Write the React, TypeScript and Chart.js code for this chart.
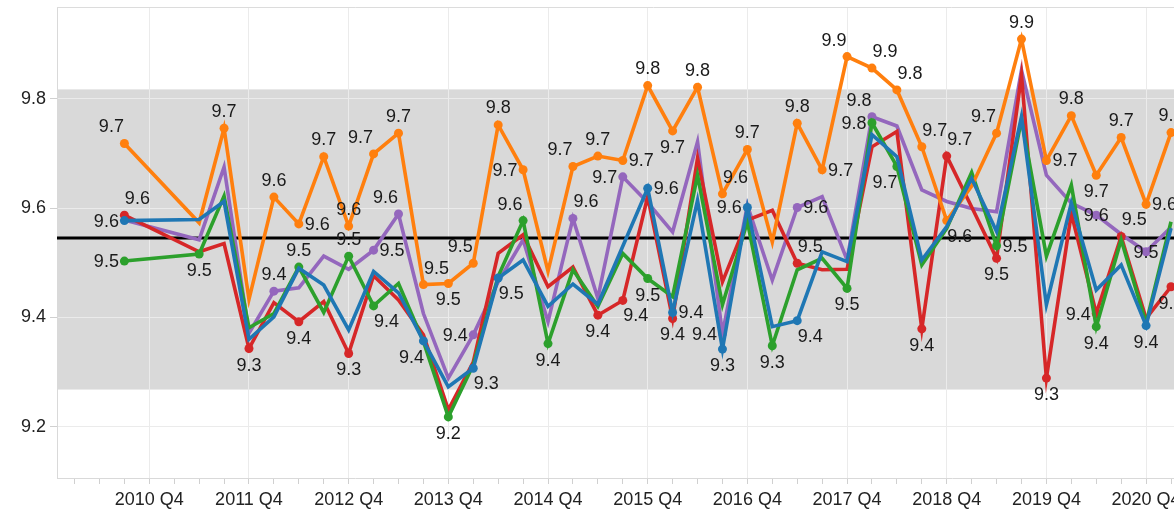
import React, { useEffect, useRef } from 'react';
import { Chart, registerables } from 'chart.js';

Chart.register(...registerables);

// ---------- data ----------
const quarters = [
  '2010 Q3',
  '2011 Q2', '2011 Q3', '2011 Q4',
  '2012 Q1', '2012 Q2', '2012 Q3', '2012 Q4',
  '2013 Q1', '2013 Q2', '2013 Q3', '2013 Q4',
  '2014 Q1', '2014 Q2', '2014 Q3', '2014 Q4',
  '2015 Q1', '2015 Q2', '2015 Q3', '2015 Q4',
  '2016 Q1', '2016 Q2', '2016 Q3', '2016 Q4',
  '2017 Q1', '2017 Q2', '2017 Q3', '2017 Q4',
  '2018 Q1', '2018 Q2', '2018 Q3', '2018 Q4',
  '2019 Q1', '2019 Q2', '2019 Q3', '2019 Q4',
  '2020 Q1', '2020 Q2', '2020 Q3', '2020 Q4',
  '2021 Q1',
];

const seriesOrange = [
  9.718,
  9.573, 9.746, 9.433,
  9.620, 9.571, 9.694, 9.567,
  9.699, 9.737, 9.460, 9.462,
  9.499, 9.752, 9.670, 9.484,
  9.676, 9.695, 9.687, 9.824,
  9.741, 9.821, 9.626, 9.707,
  9.538, 9.755, 9.670, 9.877,
  9.856, 9.816, 9.712, 9.577,
  9.640, 9.737, 9.909, 9.687,
  9.769, 9.660, 9.729, 9.607,
  9.738,
];

const seriesRed = [
  9.587,
  9.520, 9.535, 9.343,
  9.427, 9.392, 9.429, 9.334,
  9.476, 9.432, 9.368, 9.231,
  9.318, 9.517, 9.551, 9.456,
  9.492, 9.404, 9.431, 9.621,
  9.398, 9.691, 9.465, 9.578,
  9.596, 9.499, 9.487, 9.488,
  9.712, 9.740, 9.379, 9.695,
  9.602, 9.508, 9.843, 9.289,
  9.590, 9.407, 9.548, 9.398,
  9.456,
];

const seriesGreen = [
  9.503,
  9.516, 9.622, 9.381,
  9.407, 9.492, 9.409, 9.512,
  9.421, 9.462, 9.356, 9.218,
  9.313, 9.475, 9.577, 9.352,
  9.487, 9.420, 9.517, 9.471,
  9.438, 9.660, 9.423, 9.575,
  9.348, 9.487, 9.508, 9.453,
  9.756, 9.676, 9.496, 9.563,
  9.665, 9.531, 9.762, 9.512,
  9.642, 9.383, 9.542, 9.389,
  9.575,
];

const seriesBlue = [
  9.577,
  9.579, 9.612, 9.360,
  9.401, 9.490, 9.459, 9.377,
  9.484, 9.445, 9.357, 9.273,
  9.307, 9.472, 9.505, 9.420,
  9.461, 9.424, 9.530, 9.636,
  9.409, 9.614, 9.342, 9.601,
  9.383, 9.394, 9.520, 9.502,
  9.734, 9.694, 9.505, 9.566,
  9.654, 9.557, 9.767, 9.423,
  9.609, 9.450, 9.496, 9.385,
  9.563,
];

const seriesPurple = [
  9.578,
  9.542, 9.675, 9.371,
  9.448, 9.454, 9.512, 9.488,
  9.523, 9.589, 9.407, 9.289,
  9.368, 9.465, 9.542, 9.392,
  9.581, 9.435, 9.657, 9.610,
  9.556, 9.721, 9.370, 9.605,
  9.468, 9.601, 9.621, 9.505,
  9.767, 9.750, 9.633, 9.612,
  9.599, 9.593, 9.852, 9.660,
  9.609, 9.587, 9.552, 9.520,
  9.565,
];

const xTickLabels = [
  '2010 Q4', '2011 Q4', '2012 Q4', '2013 Q4', '2014 Q4', '2015 Q4',
  '2016 Q4', '2017 Q4', '2018 Q4', '2019 Q4', '2020 Q4',
];
const yTickValues = [9.2, 9.4, 9.6, 9.8];
const referenceValue = 9.545;
const bandLow = 9.268;
const bandHigh = 9.817;

// which points carry a value label, and on which side of the point
const pointLabels: [string, string, string][] = [
  ['orange', '2010 Q3', 'topleft'], ['orange', '2011 Q3', 'top'], ['orange', '2012 Q1', 'top'],
  ['orange', '2012 Q2', 'right'], ['orange', '2012 Q3', 'top'], ['orange', '2012 Q4', 'top'],
  ['orange', '2013 Q1', 'topleft'], ['orange', '2013 Q2', 'top'], ['orange', '2013 Q3', 'topright'],
  ['orange', '2013 Q4', 'bottom'], ['orange', '2014 Q1', 'topleft'], ['orange', '2014 Q2', 'top'],
  ['orange', '2014 Q3', 'left'], ['orange', '2015 Q1', 'topleft'], ['orange', '2015 Q2', 'top'],
  ['orange', '2015 Q3', 'right'], ['orange', '2015 Q4', 'top'], ['orange', '2016 Q1', 'bottom'],
  ['orange', '2016 Q2', 'top'], ['orange', '2016 Q3', 'topright'], ['orange', '2016 Q4', 'top'],
  ['orange', '2017 Q2', 'top'], ['orange', '2017 Q3', 'right'], ['orange', '2017 Q4', 'topleft'],
  ['orange', '2018 Q1', 'topright'], ['orange', '2018 Q2', 'topright'], ['orange', '2018 Q3', 'topright'],
  ['orange', '2018 Q4', 'bottomright'], ['orange', '2019 Q2', 'topleft'], ['orange', '2019 Q3', 'top'],
  ['orange', '2019 Q4', 'right'], ['orange', '2020 Q1', 'top'], ['orange', '2020 Q2', 'bottom'],
  ['orange', '2020 Q3', 'top'], ['orange', '2020 Q4', 'right'], ['orange', '2021 Q1', 'top'],

  ['red', '2010 Q3', 'topright'], ['red', '2011 Q4', 'bottom'], ['red', '2012 Q2', 'bottom'],
  ['red', '2012 Q4', 'bottom'], ['red', '2015 Q2', 'bottom'], ['red', '2015 Q3', 'bottomright'],
  ['red', '2016 Q1', 'bottom'], ['red', '2017 Q2', 'topright'], ['red', '2018 Q3', 'bottom'],
  ['red', '2018 Q4', 'topright'], ['red', '2019 Q2', 'bottom'], ['red', '2019 Q4', 'bottom'],
  ['red', '2020 Q2', 'left'], ['red', '2020 Q3', 'topright'], ['red', '2021 Q1', 'bottom'],

  ['green', '2010 Q3', 'left'], ['green', '2011 Q2', 'bottom'], ['green', '2012 Q2', 'top'],
  ['green', '2012 Q4', 'top'], ['green', '2013 Q1', 'bottomright'], ['green', '2013 Q4', 'bottom'],
  ['green', '2014 Q3', 'topleft'], ['green', '2014 Q4', 'bottom'], ['green', '2015 Q4', 'bottom'],
  ['green', '2017 Q1', 'bottom'], ['green', '2017 Q4', 'bottom'], ['green', '2018 Q1', 'left'],
  ['green', '2018 Q2', 'bottomleft'], ['green', '2019 Q2', 'right'], ['green', '2020 Q2', 'bottom'],

  ['blue', '2010 Q3', 'left'], ['blue', '2013 Q3', 'bottomleft'], ['blue', '2014 Q1', 'bottomright'],
  ['blue', '2014 Q2', 'bottomright'], ['blue', '2015 Q4', 'right'], ['blue', '2016 Q1', 'right'],
  ['blue', '2016 Q3', 'bottom'], ['blue', '2016 Q4', 'left'], ['blue', '2017 Q2', 'bottomright'],
  ['blue', '2020 Q4', 'bottom'],

  ['purple', '2012 Q1', 'top'], ['purple', '2013 Q1', 'right'], ['purple', '2013 Q2', 'topleft'],
  ['purple', '2014 Q1', 'left'], ['purple', '2015 Q1', 'topright'], ['purple', '2015 Q3', 'left'],
  ['purple', '2016 Q3', 'left'], ['purple', '2017 Q2', 'right'], ['purple', '2018 Q1', 'topleft'],
  ['purple', '2020 Q2', 'center'], ['purple', '2020 Q4', 'center'],
];

// ---------- helpers / styles ----------
const toQuarterIndex = (label: string) => {
  const [y, q] = label.split(' Q');
  return (Number(y) - 2010) * 4 + Number(q) - 1;
};

const FONT = '"Liberation Sans", Arial, Helvetica, sans-serif';

const seriesDefs = [
  { key: 'blue', values: seriesBlue, color: '#1f77b4', order: 0 },
  { key: 'orange', values: seriesOrange, color: '#ff7f0e', order: 1 },
  { key: 'green', values: seriesGreen, color: '#2ca02c', order: 2 },
  { key: 'red', values: seriesRed, color: '#d62728', order: 3 },
  { key: 'purple', values: seriesPurple, color: '#9467bd', order: 4 },
];

const labelOffsets: Record<string, [number, number]> = {
  top: [0, -17.5],
  bottom: [0, 16],
  left: [-18, 0],
  right: [18.5, 0],
  topleft: [-13, -17],
  topright: [13, -17],
  bottomleft: [-12, 16],
  bottomright: [13, 15],
  center: [0, 0],
};

const labeledSet = new Set(pointLabels.map(([k, q]) => `${k}|${q}`));
const xTickMap: Record<number, string> = {};
xTickLabels.forEach((l) => { xTickMap[toQuarterIndex(l)] = l; });

const backgroundPlugin = {
  id: 'bandAndFrame',
  beforeDraw(chart: any) {
    const { ctx, chartArea } = chart;
    const y = chart.scales.y;
    const top = y.getPixelForValue(bandHigh);
    const bottom = y.getPixelForValue(bandLow);
    ctx.save();
    ctx.fillStyle = '#d9d9d9';
    ctx.fillRect(chartArea.left, top, chartArea.right - chartArea.left, bottom - top);
    ctx.restore();
  },
  beforeDatasetsDraw(chart: any) {
    const { ctx, chartArea } = chart;
    const y = chart.scales.y;
    ctx.save();
    ctx.strokeStyle = '#dcdcdc';
    ctx.lineWidth = 1;
    ctx.beginPath();
    ctx.moveTo(chartArea.left, Math.round(chartArea.top) + 0.5);
    ctx.lineTo(chartArea.right, Math.round(chartArea.top) + 0.5);
    ctx.stroke();
    const ry = y.getPixelForValue(referenceValue);
    ctx.strokeStyle = '#000000';
    ctx.lineWidth = 3;
    ctx.beginPath();
    ctx.moveTo(chartArea.left, ry);
    ctx.lineTo(chartArea.right, ry);
    ctx.stroke();
    ctx.restore();
  },
};

const valueLabelPlugin = {
  id: 'valueLabels',
  afterDatasetsDraw(chart: any) {
    const { ctx } = chart;
    ctx.save();
    ctx.font = `18px ${FONT}`;
    ctx.fillStyle = '#1a1a1a';
    ctx.textAlign = 'center';
    ctx.textBaseline = 'middle';
    pointLabels.forEach(([key, quarter, pos]) => {
      const dsIndex = seriesDefs.findIndex((s) => s.key === key);
      const idx = quarters.indexOf(quarter);
      if (dsIndex < 0 || idx < 0) return;
      const el = chart.getDatasetMeta(dsIndex).data[idx];
      if (!el) return;
      const value = seriesDefs[dsIndex].values[idx];
      const [dx, dy] = labelOffsets[pos] || [0, 0];
      ctx.fillText(value.toFixed(1), el.x + dx, el.y + dy + 1);
    });
    ctx.restore();
  },
};

export default function App() {
  const canvasRef = useRef<HTMLCanvasElement | null>(null);

  useEffect(() => {
    if (!canvasRef.current) return;
    const datasets = seriesDefs.map((s) => ({
      label: s.key,
      data: s.values.map((v, i) => ({ x: toQuarterIndex(quarters[i]), y: v })),
      borderColor: s.color,
      backgroundColor: s.color,
      borderWidth: 3.6,
      tension: 0,
      order: s.order,
      pointRadius: (ctx: any) => (labeledSet.has(`${s.key}|${quarters[ctx.dataIndex]}`) ? 4.5 : 0),
      pointBorderWidth: 0,
      pointHoverRadius: 0,
      fill: false,
    }));

    const chart = new Chart(canvasRef.current, {
      type: 'line',
      data: { datasets },
      options: {
        responsive: false,
        animation: false,
        devicePixelRatio: 1,
        events: [],
        layout: { padding: { top: 7, right: 10, left: 0, bottom: 0 } },
        plugins: {
          legend: { display: false },
          tooltip: { enabled: false },
          title: { display: false },
        },
        scales: {
          x: {
            type: 'linear',
            min: -0.704,
            max: 47.17,
            afterBuildTicks: (scale: any) => {
              const ticks = [];
              for (let t = 0; t <= 46; t++) ticks.push({ value: t });
              scale.ticks = ticks;
            },
            afterFit: (scale: any) => {
              scale.height = 34;
              scale.paddingLeft = 0;
              scale.paddingRight = 0;
            },
            ticks: {
              autoSkip: false,
              maxRotation: 0,
              minRotation: 0,
              padding: 5,
              color: '#222222',
              font: { family: FONT, size: 18 },
              callback: (v: any) => xTickMap[Math.round(Number(v))] ?? '',
            },
            grid: {
              color: (ctx: any) => (ctx.tick && xTickMap[Math.round(ctx.tick.value)] ? '#ebebeb' : 'rgba(0,0,0,0)'),
              tickColor: '#d0d0d0',
              tickLength: 6,
              lineWidth: 1,
            },
            border: { color: '#d9d9d9', width: 1 },
          },
          y: {
            type: 'linear',
            min: 9.1062,
            max: 9.9677,
            afterBuildTicks: (scale: any) => {
              scale.ticks = yTickValues.map((v) => ({ value: v }));
            },
            afterFit: (scale: any) => {
              scale.width = 57;
              scale.paddingTop = 0;
              scale.paddingBottom = 0;
            },
            ticks: {
              padding: 4,
              color: '#222222',
              font: { family: FONT, size: 18 },
              callback: (v: any) => Number(v).toFixed(1),
            },
            grid: {
              color: '#ebebeb',
              tickColor: '#d0d0d0',
              tickLength: 7,
              lineWidth: 1,
            },
            border: { color: '#d9d9d9', width: 1 },
          },
        },
      },
      plugins: [backgroundPlugin, valueLabelPlugin],
    } as any);

    return () => chart.destroy();
  }, []);

  return (
    <div
      style={{
        position: 'fixed',
        left: 0,
        top: 0,
        width: 1174,
        height: 512,
        overflow: 'hidden',
        background: '#ffffff',
      }}
    >
      <canvas
        ref={canvasRef}
        width={1260}
        height={512}
        style={{ display: 'block', width: 1260, height: 512 }}
      />
    </div>
  );
}
